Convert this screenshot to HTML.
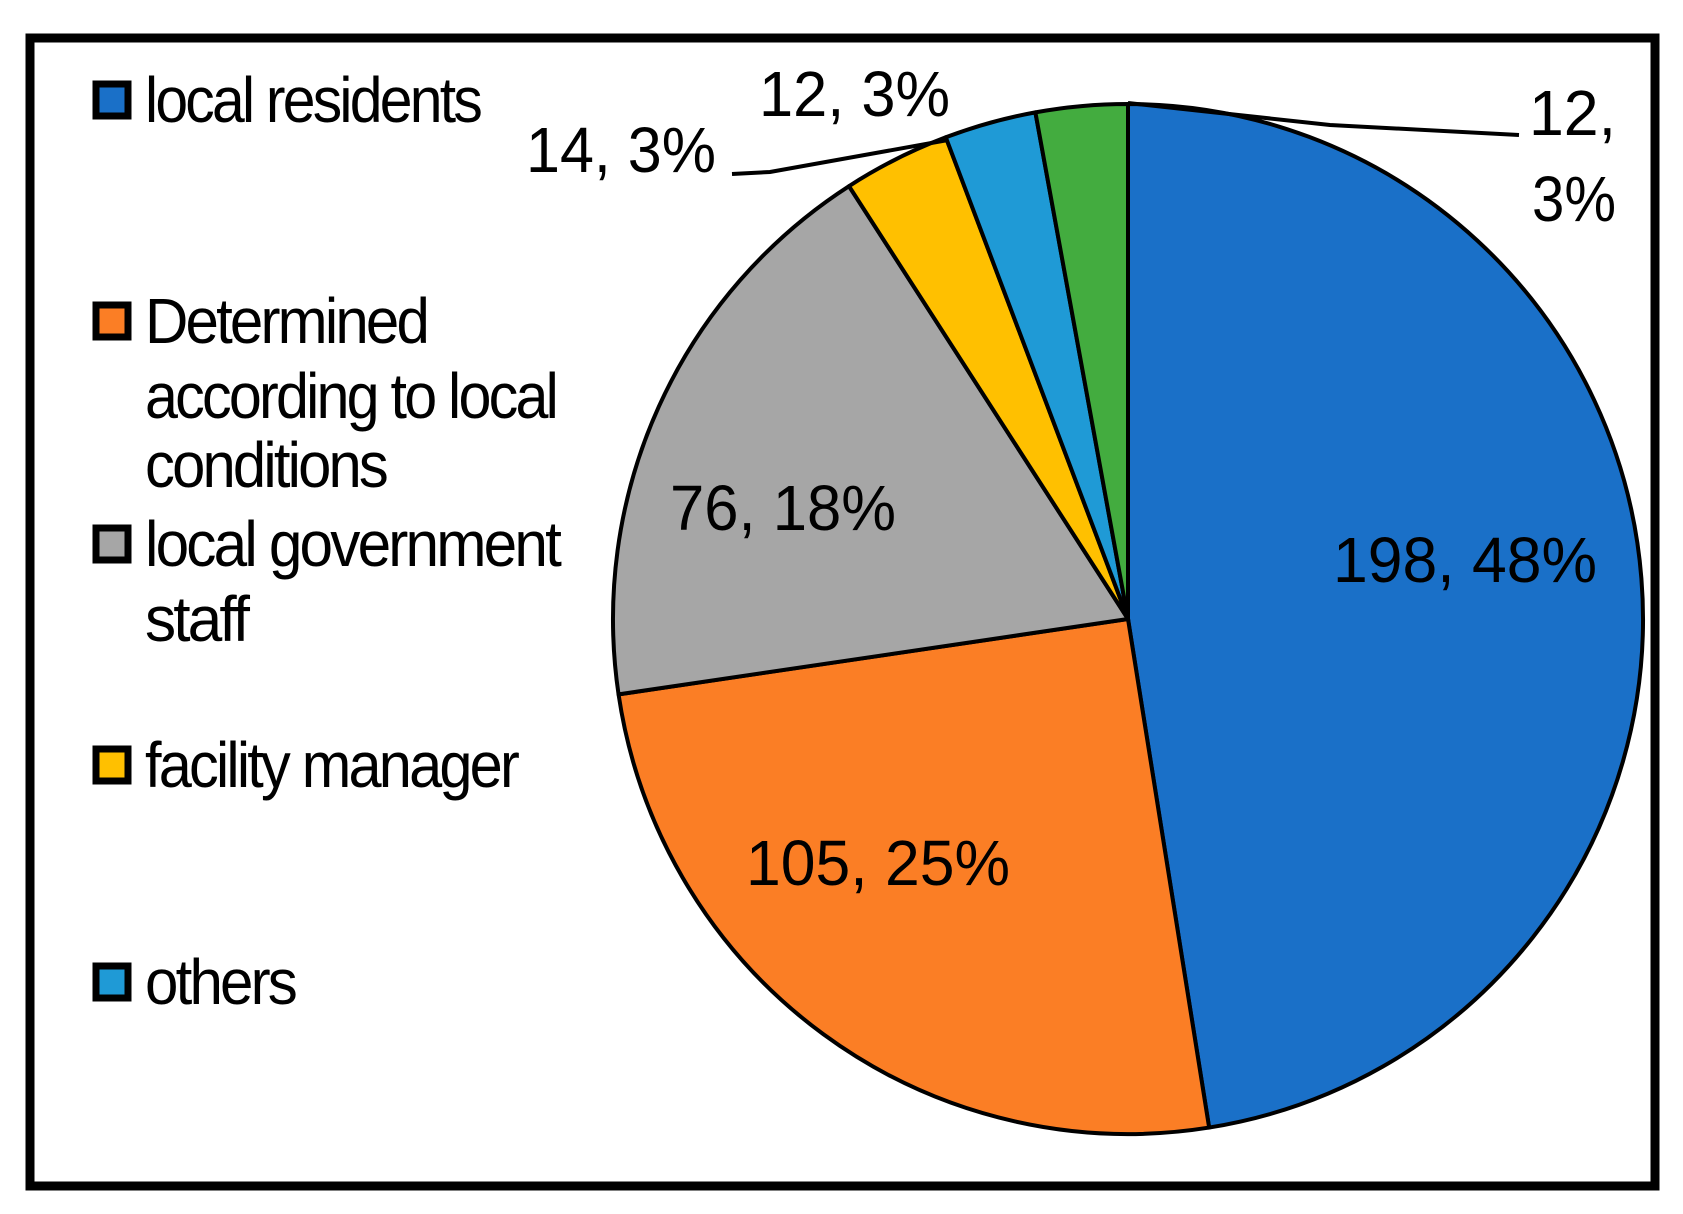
<!DOCTYPE html>
<html><head><meta charset="utf-8"><style>
html,body{margin:0;padding:0;background:#fff;}
svg{display:block;font-family:"Liberation Sans",sans-serif;}
</style></head><body>
<svg id="chart" width="1683" height="1214" viewBox="0 0 1683 1214" xmlns="http://www.w3.org/2000/svg">
<rect x="30" y="38" width="1625" height="1148" fill="#fff" stroke="#000" stroke-width="9"/>
<g id="slices"></g>
<g id="labels"></g>
<g id="legend"></g>
<polyline points="732,174 770,172 948,140" fill="none" stroke="#000" stroke-width="4"/>
<polyline points="1128,103 1330,125 1519,135" fill="none" stroke="#000" stroke-width="4"/>
</svg>
<script>
const categories = ["local residents","Determined according to local conditions","local government staff","facility manager","others","unlabeled"];
const values = [198,105,76,14,12,12];
const percents = ["48%","25%","18%","3%","3%","3%"];
const colors = ["#1a70c8","#fb7e25","#a6a6a6","#ffc000","#1f9ad6","#43ac3f"];
const NS="http://www.w3.org/2000/svg";
const cx=1128, cy=619, r=515;
const total=values.reduce((a,b)=>a+b,0);
function pt(frac,rr){const a=frac*2*Math.PI;return [cx+rr*Math.sin(a),cy-rr*Math.cos(a)];}
const sg=document.getElementById('slices');
let acc=0;
values.forEach((v,i)=>{
  const s=acc/total, e=(acc+v)/total; acc+=v;
  const p0=pt(s,r), p1=pt(e,r);
  const large=(e-s)>0.5?1:0;
  const p=document.createElementNS(NS,'path');
  p.setAttribute('d',`M${cx},${cy} L${p0[0]},${p0[1]} A${r},${r} 0 ${large} 1 ${p1[0]},${p1[1]} Z`);
  p.setAttribute('fill',colors[i]);p.setAttribute('stroke','#000');p.setAttribute('stroke-width','4');p.setAttribute('stroke-linejoin','round');
  
  
  sg.appendChild(p);
});
// data labels (positioned per layout)
const lg=document.getElementById('labels');
const labelPos=[[1465,582,264,'middle'],[878,885,264,'middle'],[783,530,226,'middle'],[526,172,190,'start'],[759,116,191,'start']];
function txt(parent,x,y,s,len,anchor,size){
  const t=document.createElementNS(NS,'text');
  t.setAttribute('x',x);t.setAttribute('y',y);t.setAttribute('font-size',size);
  t.setAttribute('text-anchor',anchor);t.setAttribute('textLength',len);t.setAttribute('lengthAdjust','spacingAndGlyphs');
  t.setAttribute('fill','#000');t.textContent=s;parent.appendChild(t);return t;
}
labelPos.forEach((lp,i)=>{
  const t=txt(lg,lp[0],lp[1],values[i]+', '+percents[i],lp[2],lp[3],64);
  
  
});
let t5=txt(lg,1529,135,values[5]+',',87,'start',64);


let t6=txt(lg,1532,221,percents[5],84,'start',64);


// legend
const leg=document.getElementById('legend');
const legItems=[[100,[["local residents",335]]],[321,[["Determined",282],["according to local",411],["conditions",241]]],[544,[["local government",414],["staff",102]]],[765,[["facility manager",372]]],[982,[["others",150]]]];
const lineGap=[0,75,144];
legItems.forEach((it,i)=>{
  const g=document.createElementNS(NS,'g');
  
  
  const sq=document.createElementNS(NS,'rect');
  sq.setAttribute('x',96);sq.setAttribute('y',it[0]-16);sq.setAttribute('width',32);sq.setAttribute('height',32);
  sq.setAttribute('fill',colors[i]);sq.setAttribute('stroke','#000');sq.setAttribute('stroke-width','7');
  
  
  g.appendChild(sq);
  it[1].forEach((ln,j)=>{
    const t=txt(g,145,it[0]+22+lineGap[j],ln[0],ln[1],'start',64);
    t.setAttribute('letter-spacing','-3');
  });
  leg.appendChild(g);
});
</script>
</body></html>
